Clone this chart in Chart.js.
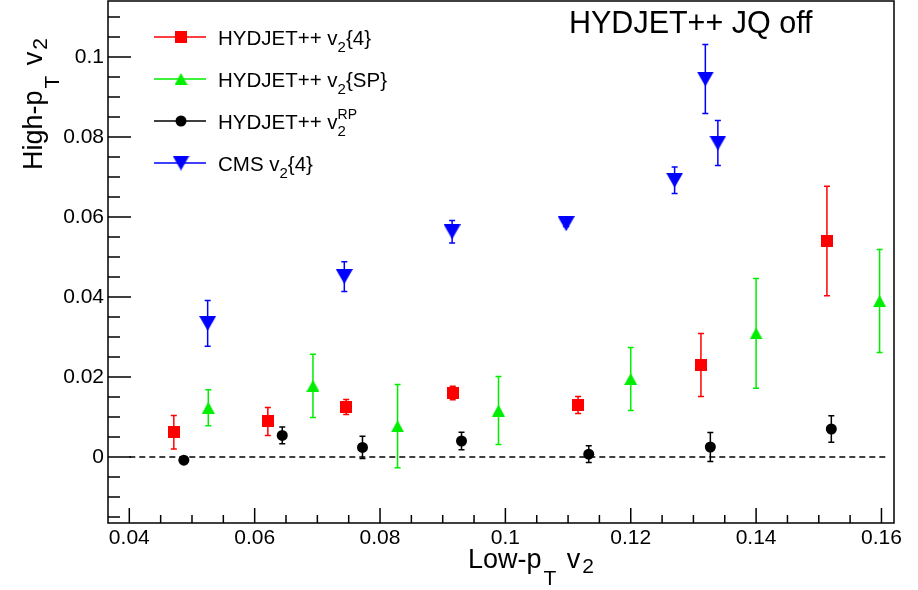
<!DOCTYPE html>
<html>
<head>
<meta charset="utf-8">
<script src="https://cdn.jsdelivr.net/npm/chart.js@4/dist/chart.umd.min.js"></script>
<style>
body{margin:0;background:#fff;}
#wrap{width:918px;height:590px;position:relative;}
</style>
</head>
<body>
<div id="wrap"><canvas id="chart" width="918" height="590"></canvas></div>
<script>
// axis ticks
const xTicks=[0.04,0.06,0.08,0.1,0.12,0.14,0.16];
const xTickLabels=["0.04","0.06","0.08","0.1","0.12","0.14","0.16"];
const yTicks=[0,0.02,0.04,0.06,0.08,0.1];
const yTickLabels=["0","0.02","0.04","0.06","0.08","0.1"];

// HYDJET++ v2{4}
const h4X=[0.0471,0.0621,0.0746,0.0916,0.1116,0.1312,0.1513];
const h4Y=[0.0062,0.0089,0.0125,0.0160,0.0130,0.0230,0.0540];
const h4Err=[0.0042,0.0035,0.0019,0.0017,0.0021,0.0079,0.0137];

// HYDJET++ v2{SP}
const spX=[0.0526,0.0693,0.0828,0.0989,0.1200,0.1400,0.1597];
const spY=[0.0123,0.0178,0.0077,0.0116,0.0195,0.0309,0.0390];
const spErr=[0.0045,0.0079,0.0104,0.0085,0.0079,0.0137,0.0129];

// HYDJET++ v2^RP
const rpX=[0.0487,0.0644,0.0772,0.0930,0.1133,0.1327,0.1520];
const rpY=[-0.0008,0.0054,0.0024,0.0040,0.0007,0.0025,0.0070];
const rpErr=[0.0004,0.0021,0.0028,0.0022,0.0021,0.0036,0.0033];

// CMS v2{4}
const cmsX=[0.0525,0.0743,0.0915,0.1097,0.1270,0.1319,0.1339];
const cmsY=[0.0334,0.0451,0.0563,0.0583,0.0692,0.0945,0.0785];
const cmsErr=[0.0057,0.0037,0.0028,0.0007,0.0033,0.0086,0.0056];

const FONT="'Liberation Sans', Arial, Helvetica, sans-serif";

function markerImg(kind,color,w,h){
  const c=document.createElement("canvas");
  c.width=w;c.height=h;
  const g=c.getContext("2d");
  g.fillStyle=color;
  g.beginPath();
  if(kind==="up"){g.moveTo(w/2,0);g.lineTo(w,h);g.lineTo(0,h);}
  else if(kind==="down"){g.moveTo(0,0);g.lineTo(w,0);g.lineTo(w/2,h);}
  else{g.rect(0,0,w,h);}
  g.closePath();g.fill();
  return c;
}
const redSq=markerImg("sq","#ff0000",12,12);
const greenUp=markerImg("up","#00ee00",13,12);
const blueDown=markerImg("down","#0000ff",17,15);

function pts(xs,ys){return xs.map((v,i)=>({x:v,y:ys[i]}));}

// draws pieces of text one after another, with sub/superscripts
function rich(ctx,x,y,parts){
  let cx=x;
  parts.forEach(p=>{
    ctx.font=p.s+"px "+FONT;
    cx+=(p.dx||0);
    ctx.fillText(p.t,cx,y+(p.dy||0));
    if(!p.keep) cx+=ctx.measureText(p.t).width;
  });
  return cx-x;
}
function richWidth(ctx,parts){
  let w=0;
  parts.forEach(p=>{ctx.font=p.s+"px "+FONT;w+=(p.dx||0);if(!p.keep) w+=ctx.measureText(p.t).width;});
  return w;
}

const decor={
  id:"decor",
  beforeDatasetsDraw(chart){
    const ctx=chart.ctx,xs=chart.scales.x,ys=chart.scales.y;
    ctx.save();
    // dashed line at zero
    ctx.strokeStyle="#000";ctx.lineWidth=1.5;ctx.setLineDash([6,4]);
    ctx.beginPath();
    ctx.moveTo(xs.getPixelForValue(0.04),ys.getPixelForValue(0));
    ctx.lineTo(xs.getPixelForValue(0.161),ys.getPixelForValue(0));
    ctx.stroke();
    ctx.setLineDash([]);
    // error bars
    chart.data.datasets.forEach(ds=>{
      ctx.strokeStyle=ds.errColor;ctx.lineWidth=1.5;
      ds.data.forEach((p,i)=>{
        const px=xs.getPixelForValue(p.x);
        const t=ys.getPixelForValue(p.y+ds.yErr[i]);
        const b=ys.getPixelForValue(p.y-ds.yErr[i]);
        ctx.beginPath();
        ctx.moveTo(px,t);ctx.lineTo(px,b);
        ctx.moveTo(px-3,t);ctx.lineTo(px+3,t);
        ctx.moveTo(px-3,b);ctx.lineTo(px+3,b);
        ctx.stroke();
      });
    });
    ctx.restore();
  },
  afterDraw(chart){
    const ctx=chart.ctx,a=chart.chartArea,xs=chart.scales.x,ys=chart.scales.y;
    ctx.save();
    ctx.strokeStyle="#000";ctx.lineWidth=1.5;
    ctx.strokeRect(a.left,a.top,a.right-a.left,a.bottom-a.top);
    // ticks, pointing inward
    ctx.beginPath();
    for(let v=-0.015;v<=0.1141;v+=0.005){
      const py=ys.getPixelForValue(v);
      if(py<a.top||py>a.bottom) continue;
      const major=Math.abs(v/0.02-Math.round(v/0.02))<1e-6;
      ctx.moveTo(a.left,py);ctx.lineTo(a.left+(major?23:12),py);
    }
    for(let v=0.04;v<=0.1621;v+=0.005){
      const px=xs.getPixelForValue(v);
      if(px<a.left||px>a.right) continue;
      const major=Math.abs(v/0.02-Math.round(v/0.02))<1e-6;
      ctx.moveTo(px,a.bottom);ctx.lineTo(px,a.bottom-(major?15:8));
    }
    ctx.stroke();

    ctx.fillStyle="#000";ctx.textBaseline="alphabetic";ctx.textAlign="left";
    // header text
    rich(ctx,569,33,[{t:"HYDJET++ JQ off",s:30.5}]);
    // x title
    rich(ctx,468,568,[{t:"Low-p",s:27},{t:"T",s:21,dy:17,dx:2},{t:" v",s:27,dx:3},{t:"2",s:21,dy:5,dx:2}]);
    // y title, rotated
    const yParts=[{t:"High-p",s:27},{t:"T",s:21,dy:17,dx:2},{t:" v",s:27,dx:3},{t:"2",s:21,dy:5,dx:2}];
    ctx.save();
    ctx.translate(42,38);ctx.rotate(-Math.PI/2);
    rich(ctx,-richWidth(ctx,yParts),0,yParts);
    ctx.restore();

    // legend
    const rows=[
      {c:"#ff0000",img:redSq,parts:[{t:"HYDJET++ v",s:20.5},{t:"2",s:15,dy:7},{t:"{4}",s:20.5}]},
      {c:"#00ee00",img:greenUp,parts:[{t:"HYDJET++ v",s:20.5},{t:"2",s:15,dy:7},{t:"{SP}",s:20.5}]},
      {c:"#000000",img:null,parts:[{t:"HYDJET++ v",s:20.5},{t:"RP",s:14,dy:-10,keep:true},{t:"2",s:15,dy:7}]},
      {c:"#0000ff",img:blueDown,parts:[{t:"CMS v",s:20.5},{t:"2",s:15,dy:7},{t:"{4}",s:20.5}]}
    ];
    rows.forEach((r,i)=>{
      const ry=37+i*42;
      ctx.strokeStyle=r.c;ctx.lineWidth=1.5;
      ctx.beginPath();ctx.moveTo(154,ry);ctx.lineTo(206,ry);ctx.stroke();
      if(r.img){ctx.drawImage(r.img,181-r.img.width/2,ry-r.img.height/2);}
      else{ctx.fillStyle="#000";ctx.beginPath();ctx.arc(181,ry,5.5,0,Math.PI*2);ctx.fill();}
      ctx.fillStyle="#000";
      rich(ctx,218,ry+8,r.parts);
    });
    ctx.restore();
  }
};

new Chart(document.getElementById("chart"),{
  type:"scatter",
  data:{datasets:[
    {label:"HYDJET++ v2{4}",data:pts(h4X,h4Y),yErr:h4Err,errColor:"#ff0000",pointStyle:redSq,pointRadius:6},
    {label:"HYDJET++ v2{SP}",data:pts(spX,spY),yErr:spErr,errColor:"#00ee00",pointStyle:greenUp,pointRadius:6},
    {label:"HYDJET++ v2^RP",data:pts(rpX,rpY),yErr:rpErr,errColor:"#000000",pointStyle:"circle",pointRadius:5.5,backgroundColor:"#000",borderColor:"#000",borderWidth:0},
    {label:"CMS v2{4}",data:pts(cmsX,cmsY),yErr:cmsErr,errColor:"#0000ff",pointStyle:blueDown,pointRadius:8}
  ]},
  options:{
    responsive:false,animation:false,events:[],
    layout:{autoPadding:false,padding:{left:0,right:24,top:1,bottom:0}},
    plugins:{legend:{display:false},tooltip:{enabled:false}},
    scales:{
      x:{type:"linear",min:0.0366,max:0.162,
        grid:{display:false,drawTicks:false},border:{display:false},
        afterBuildTicks:s=>{s.ticks=xTicks.map(v=>({value:v}));},
        afterFit:s=>{s.height=67;s.paddingLeft=0;s.paddingRight=0;},
        ticks:{autoSkip:false,maxRotation:0,padding:3,color:"#000",font:{family:FONT,size:21},callback:(v,i)=>xTickLabels[i]}},
      y:{type:"linear",min:-0.0165,max:0.114,
        grid:{display:false,drawTicks:false},border:{display:false},
        afterBuildTicks:s=>{s.ticks=yTicks.map(v=>({value:v}));},
        afterFit:s=>{s.width=108;s.paddingTop=0;s.paddingBottom=0;},
        ticks:{autoSkip:false,padding:4,color:"#000",font:{family:FONT,size:21},callback:(v,i)=>yTickLabels[i]}}
    }
  },
  plugins:[decor]
});
</script>
</body>
</html>
